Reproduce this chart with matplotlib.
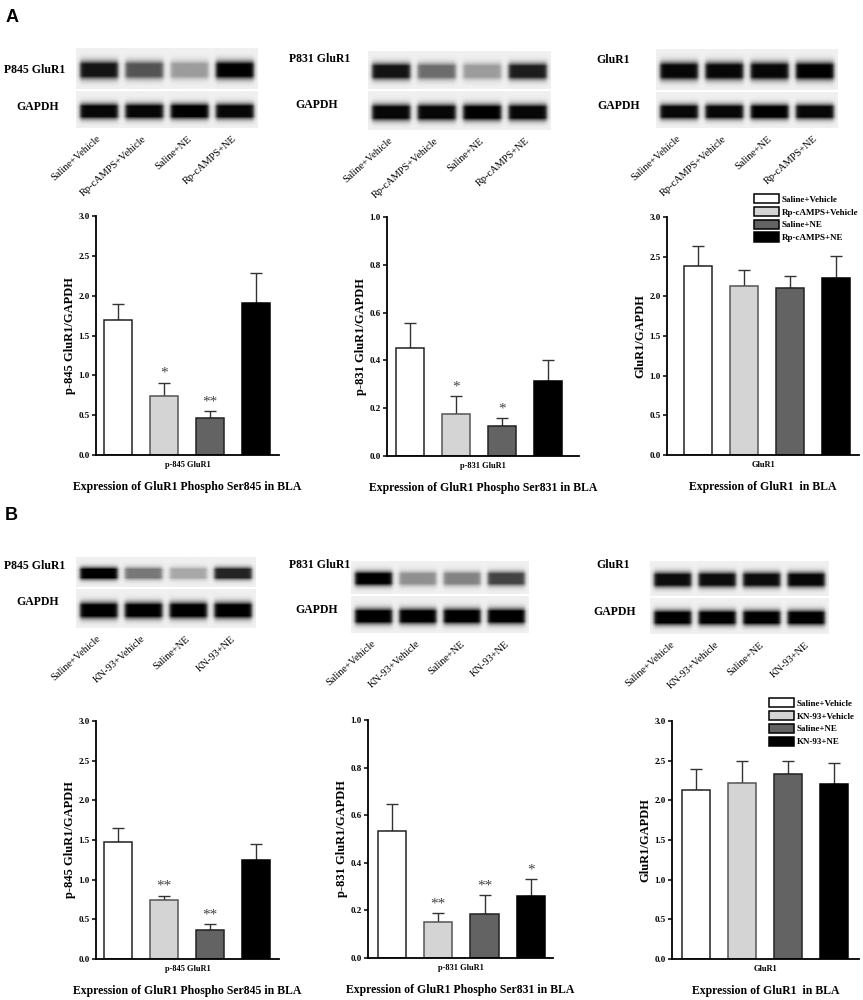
import numpy as np
import matplotlib
matplotlib.use("Agg")
import matplotlib.pyplot as plt
from matplotlib.patches import Patch

# ---- data ----
groups_A = ["Saline+Vehicle", "Rp-cAMPS+Vehicle", "Saline+NE", "Rp-cAMPS+NE"]
groups_B = ["Saline+Vehicle", "KN-93+Vehicle", "Saline+NE", "KN-93+NE"]

# panel A
p845_A = [1.70, 0.74, 0.46, 1.91]
p845_A_err = [0.19, 0.17, 0.09, 0.37]
p845_A_sig = ["", "*", "**", ""]
p831_A = [0.45, 0.175, 0.125, 0.315]
p831_A_err = [0.105, 0.075, 0.032, 0.085]
p831_A_sig = ["", "*", "*", ""]
glur1_A = [2.38, 2.13, 2.11, 2.23]
glur1_A_err = [0.25, 0.20, 0.15, 0.28]
glur1_A_sig = ["", "", "", ""]

# panel B
p845_B = [1.48, 0.74, 0.36, 1.25]
p845_B_err = [0.17, 0.06, 0.08, 0.20]
p845_B_sig = ["", "**", "**", ""]
p831_B = [0.535, 0.15, 0.183, 0.26]
p831_B_err = [0.11, 0.038, 0.082, 0.07]
p831_B_sig = ["", "**", "**", "*"]
glur1_B = [2.13, 2.22, 2.33, 2.21]
glur1_B_err = [0.27, 0.27, 0.17, 0.26]
glur1_B_sig = ["", "", "", ""]

# western blot band darkness (0 = none, 1 = saturated)
blot_A845 = [0.92, 0.65, 0.35, 1.0]
blot_A831 = [0.92, 0.55, 0.35, 0.88]
blot_AGlu = [0.97, 0.97, 0.97, 1.0]
blot_B845 = [1.0, 0.50, 0.30, 0.85]
blot_B831 = [1.0, 0.40, 0.45, 0.72]
blot_BGlu = [0.95, 0.95, 0.95, 0.97]
gapdh_A = [0.97, 0.97, 1.0, 0.97]
gapdh_B = [1.0, 1.0, 1.0, 1.0]

colors = ["white", "#d4d4d4", "#636363", "black"]
edges = ["#222222", "#555555", "#222222", "black"]

W, H = 863, 1000
fig = plt.figure(figsize=(W / 100, H / 100), dpi=100)
serif = "Liberation Serif"


def rect(x0, x1, y0, y1):
    return [x0 / W, 1 - y1 / H, (x1 - x0) / W, (y1 - y0) / H]


def ftext(x, y, s, **kw):
    fig.text(x / W, 1 - y / H, s, **kw)


def strip(x0, x1, y0, y1, dark):
    ax = fig.add_axes(rect(x0, x1, y0, y1))
    w, h = int(x1 - x0), int(y1 - y0)
    xx = np.linspace(0, 1, w)[None, :]
    yy = np.linspace(0, 1, h)[:, None]
    bg = 0.94
    img = np.full((h, w), bg)
    for i, d in enumerate(dark):
        c = (i + 0.5) / 4
        hp = 0.5 * (np.tanh((xx - c + 0.105) / 0.012) - np.tanh((xx - c - 0.105) / 0.012))
        vp = np.exp(-((yy - 0.55) ** 2) / (2 * 0.13 ** 2))
        img = img - d * bg * hp * np.clip(vp * 1.8, 0, 1)
    ax.imshow(np.clip(img, 0, 1), cmap="gray", vmin=0, vmax=1, aspect="auto",
              interpolation="bilinear")
    ax.axis("off")


def blot(x0, x1, ytop, ymid, ybot, dark, gapdh, name, name_x, name_y, gapdh_x, gapdh_y, lanes):
    strip(x0, x1, ytop, ymid - 1, dark)
    strip(x0, x1, ymid + 1, ybot, gapdh)
    ftext(name_x, name_y, name, family=serif, weight="bold", fontsize=8.5,
          ha="center", va="center")
    ftext(gapdh_x, gapdh_y, "GAPDH", family=serif, weight="bold", fontsize=8.5,
          ha="center", va="center")
    for i, lab in enumerate(lanes):
        cx = x0 + (i + 0.5) / 4 * (x1 - x0) - 2
        ftext(cx, ybot + 6, lab, family=serif, fontsize=7.5, rotation=42,
              ha="right", va="top", rotation_mode="anchor")


def bars(x0, x1, ytop, ybot, xlim, ymax, step, vals, errs, sig, ylabel, xlabel, title):
    ax = fig.add_axes(rect(x0, x1, ytop, ybot))
    pos = np.arange(len(vals))
    ax.bar(pos, vals, 0.61, color=colors, edgecolor=edges, linewidth=1.1, zorder=2)
    ax.errorbar(pos, vals, yerr=[np.zeros(len(errs)), errs], fmt="none",
                ecolor="#333333", elinewidth=1.0, capsize=4, capthick=1.0, zorder=1)
    for i, s in enumerate(sig):
        if s:
            ax.annotate(s, (pos[i], vals[i] + errs[i]), xytext=(0, 2),
                        textcoords="offset points", ha="center", va="bottom",
                        fontsize=11, color="#444444", family=serif)
    ax.set_xlim(*xlim)
    ax.set_ylim(0, ymax)
    ticks = np.arange(0, ymax + 1e-9, step)
    ax.set_yticks(ticks)
    ax.set_yticklabels([f"{t:.1f}" for t in ticks], family=serif, weight="bold", fontsize=6.5)
    ax.set_xticks([])
    for s in ["top", "right"]:
        ax.spines[s].set_visible(False)
    for s in ["left", "bottom"]:
        ax.spines[s].set_linewidth(1.3)
    ax.tick_params(axis="y", length=3, width=1.1, pad=1.5)
    ax.set_ylabel(ylabel, family=serif, weight="bold", fontsize=9, labelpad=2)
    cx = (x0 + x1) / 2
    ftext(cx, ybot + 10, xlabel, family=serif, weight="bold", fontsize=6,
          ha="center", va="center")
    ftext(cx, ybot + 32, title, family=serif, weight="bold", fontsize=8.5,
          ha="center", va="center")
    return ax


# panel letters
ftext(12, 17, "A", family="Liberation Sans", weight="bold", fontsize=13, ha="center", va="center")
ftext(11, 516, "B", family="Liberation Sans", weight="bold", fontsize=13, ha="center", va="center")

# ---- panel A ----
blot(76, 257, 48, 90, 128, blot_A845, gapdh_A, "P845 GluR1", 35, 70, 38, 107, groups_A)
blot(368, 550, 51, 90, 130, blot_A831, gapdh_A, "P831 GluR1", 320, 59, 317, 105, groups_A)
blot(656, 838, 49, 91, 128, blot_AGlu, gapdh_A, "GluR1", 613, 60, 619, 106, groups_A)

bars(96, 279, 216, 455, (-0.48, 3.5), 3.0, 0.5, p845_A, p845_A_err, p845_A_sig,
     "p-845 GluR1/GAPDH", "p-845 GluR1", "Expression of GluR1 Phospho Ser845 in BLA")
bars(387, 579, 217, 456, (-0.5, 3.67), 1.0, 0.2, p831_A, p831_A_err, p831_A_sig,
     "p-831 GluR1/GAPDH", "p-831 GluR1", "Expression of GluR1 Phospho Ser831 in BLA")
bars(667, 859, 217, 455, (-0.67, 3.5), 3.0, 0.5, glur1_A, glur1_A_err, glur1_A_sig,
     "GluR1/GAPDH", "GluR1", "Expression of GluR1  in BLA")

# ---- panel B ----
blot(76, 255, 557, 588, 628, blot_B845, gapdh_B, "P845 GluR1", 35, 566, 38, 602, groups_B)
blot(351, 529, 561, 595, 633, blot_B831, gapdh_B, "P831 GluR1", 320, 565, 317, 610, groups_B)
blot(650, 829, 561, 597, 634, blot_BGlu, gapdh_B, "GluR1", 613, 565, 615, 612, groups_B)

bars(96, 279, 721, 959, (-0.48, 3.5), 3.0, 0.5, p845_B, p845_B_err, p845_B_sig,
     "p-845 GluR1/GAPDH", "p-845 GluR1", "Expression of GluR1 Phospho Ser845 in BLA")
bars(368, 553, 720, 958, (-0.52, 3.48), 1.0, 0.2, p831_B, p831_B_err, p831_B_sig,
     "p-831 GluR1/GAPDH", "p-831 GluR1", "Expression of GluR1 Phospho Ser831 in BLA")
bars(672, 859, 721, 959, (-0.52, 3.54), 3.0, 0.5, glur1_B, glur1_B_err, glur1_B_sig,
     "GluR1/GAPDH", "GluR1", "Expression of GluR1  in BLA")

# legends
for labels, lx, ly in [(groups_A, 754, 194), (groups_B, 769, 698)]:
    handles = [Patch(facecolor=c, edgecolor="black", linewidth=1.1) for c in colors]
    fig.legend(handles, labels, loc="upper left", bbox_to_anchor=(lx / W, 1 - ly / H),
               frameon=False, borderpad=0, borderaxespad=0, handlelength=2.8,
               handleheight=1.2, handletextpad=0.3, labelspacing=0.35,
               prop={"family": serif, "weight": "bold", "size": 6.5})

fig.savefig("out.png", dpi=100)
